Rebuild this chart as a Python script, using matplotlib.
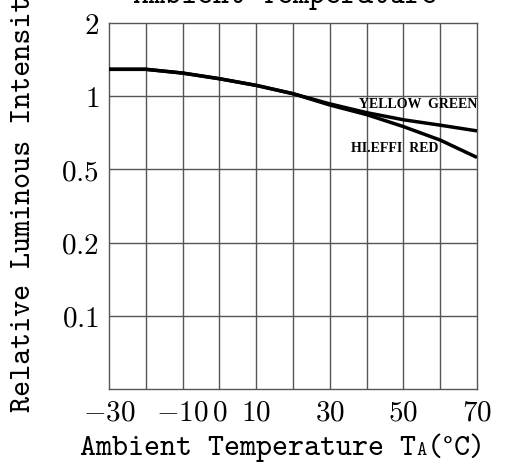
import matplotlib
matplotlib.use("Agg")
import matplotlib.pyplot as plt
import numpy as np

plt.rcParams["mathtext.fontset"] = "cm"

# axis ticks (the y axis is a stepped log-like scale with equal spacing)
y_tick_vals = [0.05, 0.1, 0.2, 0.5, 1, 2]
y_tick_labels = ["", "0.1", "0.2", "0.5", "1", "2"]
x_tick_vals = [-30, -10, 0, 10, 30, 50, 70]
x_tick_labels = ["-30", "-10", "0", "10", "30", "50", "70"]

# relative luminous intensity vs ambient temperature
temp = [-30, -20, -10, 0, 10, 20, 30, 40, 50, 60, 70]
yellow_green = [1.29, 1.29, 1.245, 1.18, 1.108, 1.024, 0.93, 0.856, 0.80, 0.76, 0.72]
hi_effi_red = [1.29, 1.29, 1.245, 1.18, 1.108, 1.024, 0.92, 0.84, 0.75, 0.66, 0.56]

_lv = np.log10(y_tick_vals)
_pos = np.arange(len(y_tick_vals), dtype=float)


def fwd(v):
    v = np.clip(np.asarray(v, dtype=float), 1e-6, None)
    return np.interp(np.log10(v), _lv, _pos)


def inv(p):
    return 10 ** np.interp(np.asarray(p, dtype=float), _pos, _lv)


W, H = 527, 468
fig = plt.figure(figsize=(W / 100, H / 100), dpi=100)
ax = fig.add_axes([109 / W, 1 - 389 / H, (477 - 109) / W, (389 - 23) / H])
ax.set_yscale("function", functions=(fwd, inv))
ax.set_xlim(-30, 70)
ax.set_ylim(0.05, 2)

gc = "#555555"
for xv in range(-20, 70, 10):
    ax.axvline(xv, color=gc, lw=1.0, zorder=1)
for yv in y_tick_vals[1:-1]:
    ax.axhline(yv, color=gc, lw=1.0, zorder=1)
for s in ax.spines.values():
    s.set_color(gc)
    s.set_linewidth(1.0)

ax.plot(temp, yellow_green, color="black", lw=2.5, solid_capstyle="butt", zorder=3)
ax.plot(temp, hi_effi_red, color="black", lw=2.5, solid_capstyle="butt", zorder=3)

ax.set_xticks(x_tick_vals)
ax.set_xticklabels([f"${t}$" for t in x_tick_labels], fontsize=21)
ax.set_yticks(y_tick_vals)
ax.set_yticklabels([f"${t}$" if t else "" for t in y_tick_labels], fontsize=21)
ax.yaxis.set_minor_locator(matplotlib.ticker.NullLocator())
ax.tick_params(axis="y", length=0, pad=7)
ax.tick_params(axis="x", length=0, pad=7)

lab_font = dict(family=["Liberation Serif"], fontweight="bold", fontsize=10)
ax.text(70, 0.985, "YELLOW  GREEN", ha="right", va="top", **lab_font)
ax.text(47.5, 0.61, "HI.EFFI  RED", ha="center", va="center", **lab_font)

tt = ["cmtt10", "DejaVu Serif"]
fig.text(24 / W, 1 - 412 / H, "Relative Luminous Intensity", rotation=90,
         ha="center", va="bottom", family=tt, fontsize=22)
fig.text(285 / W, 1 - 3 / H, "Ambient Temperature", ha="center", va="baseline",
         family=tt, fontsize=22)

# x label with small-cap subscript A, built piece by piece on one baseline
fig.canvas.draw()
r = fig.canvas.get_renderer()
x0, yb = 80 / W, 1 - 455 / H
t1 = fig.text(x0, yb, "Ambient Temperature T", ha="left", va="baseline", family=tt, fontsize=22)
e1 = t1.get_window_extent(r)
t2 = fig.text(e1.x1 / W, yb, "A", ha="left", va="baseline", family=tt, fontsize=14)
e2 = t2.get_window_extent(r)
t3 = fig.text(e2.x1 / W, yb, "(", ha="left", va="baseline", family=tt, fontsize=22)
e3 = t3.get_window_extent(r)
t4 = fig.text(e3.x1 / W, yb, "°", ha="left", va="baseline", family=["DejaVu Serif"], fontsize=17)
e4 = t4.get_window_extent(r)
fig.text(e4.x1 / W, yb, "C)", ha="left", va="baseline", family=tt, fontsize=22)

fig.savefig("out.png", dpi=100)
